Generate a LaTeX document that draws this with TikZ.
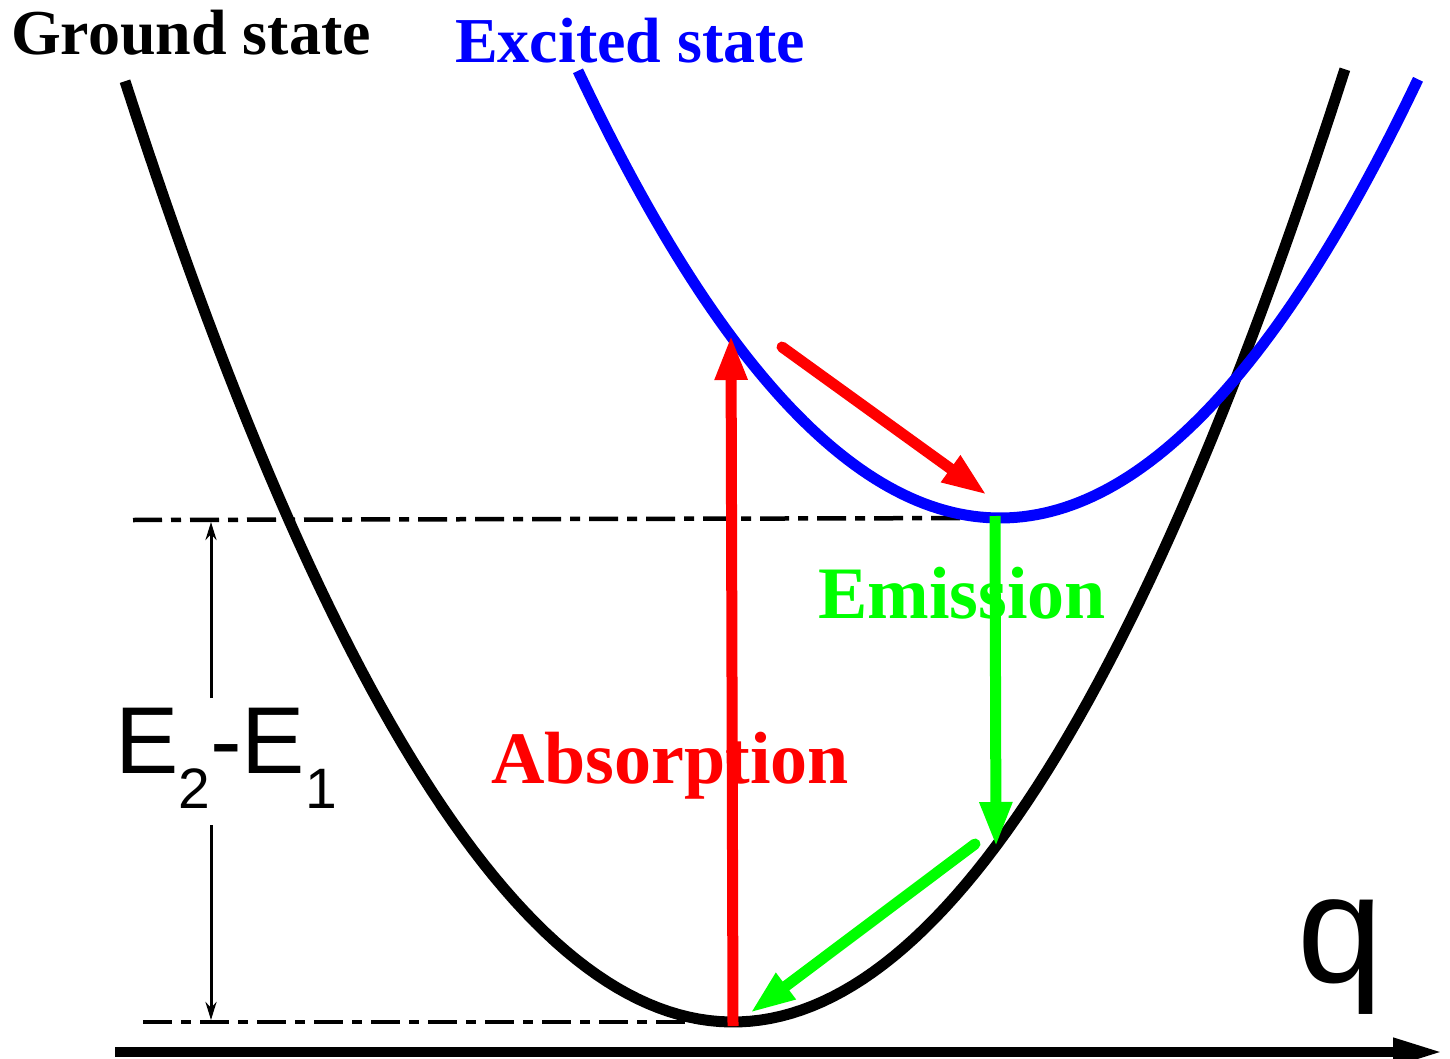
\documentclass[tikz,border=0pt]{standalone}
\usepackage{fontspec}
\setmainfont{Liberation Serif}
\setsansfont{Liberation Sans}
\usetikzlibrary{arrows.meta}

\definecolor{vgreen}{RGB}{0,255,0}

\tikzset{
  curve/.style={line width=11pt},
  dashdot/.style={line width=4.5pt, dash pattern=on 29pt off 9pt on 10pt off 9pt},
  bigarrow/.style={line width=11pt, -{Triangle[length=45pt,width=30pt]}},
  dimarrow/.style={line width=3pt, -{Stealth[length=18pt,width=11pt]}},
  title/.style={font=\fontsize{64}{70}\selectfont\bfseries, inner sep=0pt, anchor=base west},
  label/.style={font=\fontsize{74}{80}\selectfont\bfseries, inner sep=0pt, anchor=base west},
}

\begin{document}
\begin{tikzpicture}[x=1pt, y=-1pt]
  \useasboundingbox (0,0) rectangle (1450,1059);
  % minima of the two curves
  \coordinate (gmin) at (733,1022);
  \coordinate (emin) at (1000,518);
  % energy levels
  \coordinate (ltop) at (133,520);
  \coordinate (lbot) at (143,1022);
  \draw[dashdot] (ltop) -- (emin);
  \draw[dashdot] (lbot) -- (gmin);
  % potential curves
  \draw[curve] plot[domain=-6.08:6.12, samples=120] ({733+100*\x}, {1022-25.45*\x*\x});
  \draw[curve, blue] plot[domain=-4.22:4.18, samples=120] ({1000+100*\x}, {518-25.11*\x*\x});
  % q axis
  \coordinate (qstart) at (115,1052);
  \coordinate (qend) at (1443,1052);
  \draw[line width=10pt, -{Triangle[length=50pt,width=26pt]}] (qstart) -- (qend);
  \node[font=\sffamily\fontsize{154}{160}\selectfont, inner sep=0pt, anchor=base west] (q) at (1297,982) {q};
  % E2-E1 gap
  \coordinate (d1) at (211,698);
  \coordinate (d2) at (211,522);
  \coordinate (d3) at (211,825);
  \coordinate (d4) at (211,1020);
  \draw[dimarrow] (d1) -- (d2);
  \draw[dimarrow] (d3) -- (d4);
  \node[font=\sffamily\fontsize{95}{100}\selectfont, inner sep=0pt, anchor=base west] (gap) at (115,773)
    {E\raisebox{-35pt}{\fontsize{57}{60}\selectfont 2}-E\raisebox{-35pt}{\fontsize{57}{60}\selectfont 1}};
  % transitions
  \coordinate (abot) at (733,1026);
  \coordinate (atop) at (731,335);
  \coordinate (r1) at (782,347);
  \coordinate (r2) at (987,495);
  \coordinate (etop) at (995,516);
  \coordinate (ebot) at (996,847);
  \coordinate (g1) at (975,844);
  \coordinate (g2) at (750,1013);
  \draw[bigarrow, red] (abot) -- (atop);
  \draw[bigarrow, red, line cap=round] (r1) -- (r2);
  \draw[bigarrow, vgreen] (etop) -- (ebot);
  \draw[bigarrow, vgreen, line cap=round] (g1) -- (g2);
  % labels
  \node[title] (ground) at (11,55) {Ground state};
  \node[title, blue] (excited) at (455,63) {Excited state};
  \node[label, red] (absorb) at (491,783) {Absorption};
  \node[label, vgreen] (emit) at (818,618) {Emission};
\end{tikzpicture}
\end{document}
